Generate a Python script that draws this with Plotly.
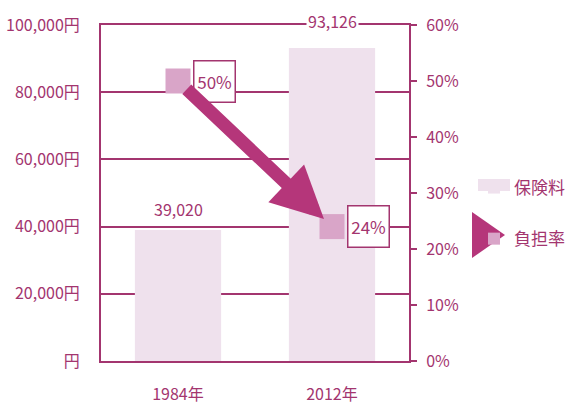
import plotly.graph_objects as go

years = ["1984年", "2012年"]
premium = [39020, 93126]          # 保険料 (円)
burden = [0.50, 0.24]             # 負担率
yen_ticks = [0, 20000, 40000, 60000, 80000, 100000]
yen_labels = ["円" if v == 0 else f"{v:,}円" for v in yen_ticks]

MAG = "#a3356f"
ARROW = "#b5367a"
MARK = "#d9a5c8"
BAR = "#efe1ed"
FONT = "Noto Sans CJK JP"

W, H = 568, 406
L, R, T, B = 101, 159, 25, 45
pw, ph = W - L - R, H - T - B

def px(x):
    return (x - L) / pw

def py(y):
    return (H - B - y) / ph

fig = go.Figure()
fig.add_trace(go.Bar(
    x=years, y=premium, name="保険料", marker=dict(color=BAR, line=dict(width=0)),
    width=0.56, legendgroup="a", yaxis="y",
))
fig.add_trace(go.Scatter(
    x=years, y=burden, name="負担率", mode="markers", yaxis="y2",
    marker=dict(symbol="square", size=25, color=MARK, line=dict(width=0)),
    legendgroup="b", cliponaxis=False,
))

# value labels on bars
for yr, v in zip(years, premium):
    fig.add_annotation(x=yr, y=v, xref="x", yref="y", text=f"{v:,}", showarrow=False,
                       yanchor="bottom", yshift=7 if v < 90000 else 13,
                       bgcolor="white", font=dict(size=16, color=MAG, family=FONT))

# boxed percentage labels
for yr, p in zip(years, burden):
    fig.add_annotation(x=yr, y=p, xref="x", yref="y2", text=f"{p:.0%}", showarrow=False,
                       xshift=36, width=38, height=38, bgcolor="white",
                       bordercolor=MAG, borderwidth=1.5,
                       font=dict(size=17, color=MAG, family=FONT))

# big arrow between the two markers
fig.add_annotation(x=years.index(years[1]), y=burden[1], xref="x", yref="y2",
                   ax=years.index(years[0]), ay=burden[0], axref="x", ayref="y2",
                   showarrow=True, arrowhead=2, arrowsize=0.8, arrowwidth=13,
                   arrowcolor=ARROW, standoff=11, startstandoff=10, text="")

# legend symbol decorations
fig.add_shape(type="rect", xref="paper", yref="paper", x0=px(478), x1=px(510),
              y0=py(191), y1=py(179), fillcolor=BAR, line=dict(width=0))
fig.add_shape(type="path", xref="paper", yref="paper",
              path=f"M{px(472)},{py(212)} L{px(505)},{py(235)} L{px(472)},{py(258)} Z",
              fillcolor=ARROW, line=dict(width=0))

fig.update_layout(
    width=W, height=H, margin=dict(l=L, r=R, t=T, b=B, autoexpand=False),
    paper_bgcolor="white", plot_bgcolor="white",
    font=dict(family=FONT, color=MAG, size=16),
    showlegend=True,
    legend=dict(x=px(474), y=py(170), xanchor="left", yanchor="top",
                font=dict(size=17, color=MAG, family=FONT),
                tracegroupgap=26, bgcolor="rgba(0,0,0,0)", itemsizing="constant"),
    bargap=0.44,
    xaxis=dict(showline=True, linecolor=MAG, linewidth=2, mirror=True, automargin=False,
               ticks="outside", ticklen=18, tickcolor="rgba(0,0,0,0)",
               tickfont=dict(size=16, color=MAG, family=FONT), showgrid=False),
    yaxis=dict(range=[0, 100000], tickvals=yen_ticks, ticktext=yen_labels, automargin=False,
               showgrid=True, gridcolor=MAG, gridwidth=2, showline=True, linecolor=MAG,
               linewidth=2, ticks="outside", ticklen=16, tickcolor="rgba(0,0,0,0)",
               zeroline=False, tickfont=dict(size=16, color=MAG, family=FONT)),
    yaxis2=dict(range=[0, 0.6], dtick=0.1, tickformat=".0%", overlaying="y", side="right",
                showgrid=False, showline=True, linecolor=MAG, linewidth=2, automargin=False,
                ticks="outside", ticklen=6, tickcolor=MAG, tickwidth=2,
                ticklabelstandoff=6, zeroline=False,
                tickfont=dict(size=16, color=MAG, family=FONT)),
)

fig.write_html("out.html", config={"displayModeBar": False},
               post_script="document.body.style.margin='0';document.body.style.overflow='hidden';")
